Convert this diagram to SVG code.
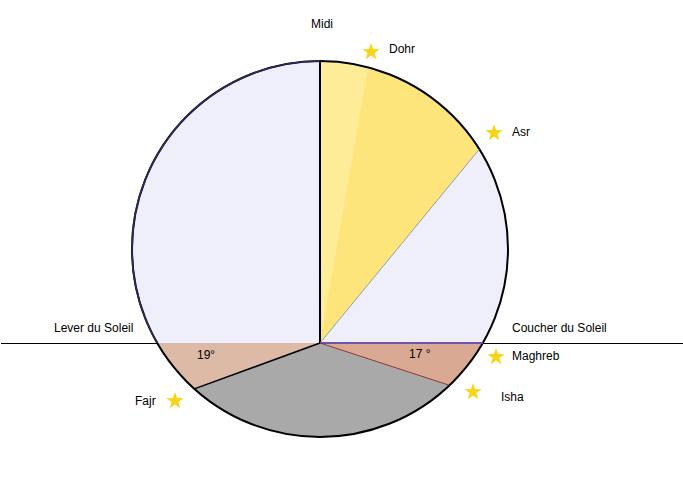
<svg xmlns="http://www.w3.org/2000/svg" width="683" height="486" viewBox="0 0 683 486">
<style>
text{font-family:"Liberation Sans",Arial,sans-serif;font-size:12px;fill:#000}
.star{fill:#F7D417}
</style>
<defs>
<polygon id="star" points="0,-9 2.1,-2.9 8.6,-2.8 3.4,1.1 5.3,7.3 0,3.6 -5.3,7.3 -3.4,1.1 -8.6,-2.8 -2.1,-2.9"/>
</defs>
<rect width="683" height="486" fill="#fff"/>
<line id="horizon" x1="1" y1="343.5" x2="683" y2="343.5" stroke="#000" stroke-width="1"/>
<g id="sectors">
<path id="day-left" d="M320,343 L320,61 A188,188 0 0,0 157.2,343 Z" fill="#EFEFFB"/>
<path id="dohr" d="M320,343 L320,61 A188,188 0 0,1 479.3,149.2 Z" fill="#FDE57B"/>
<path id="dohr-light" d="M320,343 L320,61 A188,188 0 0,1 368,67.2 Z" fill="#FEEC98"/>
<path id="asr" d="M320,343 L479.3,149.2 A188,188 0 0,1 482.8,343 Z" fill="#EFEFFB"/>
<path id="maghreb" d="M320,343 L482.8,343 A188,188 0 0,1 449.5,385.3 Z" fill="#D9A994"/>
<path id="night" d="M320,343 L449.5,385.3 A188,188 0 0,1 194.3,388.9 Z" fill="#A9A9A9"/>
<path id="fajr" d="M320,343 L194.3,388.9 A188,188 0 0,1 157.2,343 Z" fill="#DDBAA6"/>
</g>
<g id="connectors">
<circle cx="320" cy="249" r="188" fill="none" stroke="#000" stroke-width="2"/>
<path d="M157.2,343 A188,188 0 0,1 320,61" fill="none" stroke="#2A2A5C" stroke-width="1.6"/>
<line x1="320" y1="61" x2="320" y2="343" stroke="#000" stroke-width="2"/>
<line x1="320" y1="343" x2="479.3" y2="149.2" stroke="#9a9aa8" stroke-width="1"/>
<line x1="320" y1="343" x2="482.8" y2="343" stroke="#6A55A8" stroke-width="2"/>
<line x1="320" y1="343" x2="449.5" y2="385.3" stroke="#8B3A2A" stroke-width="1"/>
<line x1="320" y1="343" x2="194.3" y2="388.9" stroke="#000" stroke-width="1.5"/>
</g>
<g id="stars">
<use href="#star" class="star" x="371" y="52"/>
<use href="#star" class="star" x="494" y="133"/>
<use href="#star" class="star" x="496" y="357"/>
<use href="#star" class="star" x="473" y="392"/>
<use href="#star" class="star" x="175" y="401"/>
</g>
<g id="labels">
<text x="311" y="28">Midi</text>
<text x="389" y="53">Dohr</text>
<text x="512" y="136">Asr</text>
<text x="54" y="332">Lever du Soleil</text>
<text x="512" y="332">Coucher du Soleil</text>
<text x="512" y="360">Maghreb</text>
<text x="501" y="401">Isha</text>
<text x="135" y="405">Fajr</text>
<text x="197" y="359">19°</text>
<text x="409" y="358">17 °</text>
</g>
</svg>
